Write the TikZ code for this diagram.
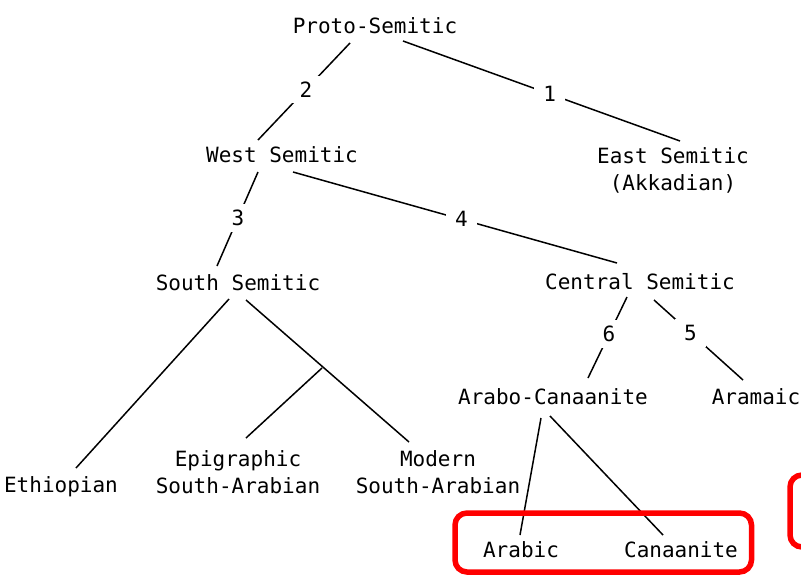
\documentclass[tikz,border=0pt]{standalone}
\usepackage{fontspec}
\setmainfont{DejaVu Sans Mono}
\usetikzlibrary{calc}
\begin{document}
\begin{tikzpicture}[x=1pt,y=-1pt,
  lang/.style={anchor=base,inner sep=0pt,font=\fontsize{21}{26.5}\selectfont,align=center},
  branch/.style={line width=1.5pt,black},
  num/.style={fill=white,inner xsep=9pt,inner ysep=6pt,font=\fontsize{21}{26.5}\selectfont},
  hilite/.style={draw=red,line width=5.5pt,rounded corners=12pt}]
\useasboundingbox (0,0) rectangle (801,576);
\clip (0,0) rectangle (801,576);
% languages
\node[lang] (proto) at (375,33) {Proto-Semitic};
\node[lang] (west) at (282,162) {West Semitic};
\node[lang] (east) at (673,190) {East Semitic\\(Akkadian)};
\node[lang] (south) at (238,290) {South Semitic};
\node[lang] (central) at (640,289) {Central Semitic};
\node[lang] (arabocan) at (553,404) {Arabo-Canaanite};
\node[lang] (aramaic) at (756,404) {Aramaic};
\node[lang] (ethiopian) at (61,492) {Ethiopian};
\node[lang] (epigraphic) at (238,493) {Epigraphic\\South-Arabian};
\node[lang] (modern) at (438,493) {Modern\\South-Arabian};
\node[lang] (arabic) at (521,557) {Arabic};
\node[lang] (canaanite) at (681,557) {Canaanite};
% connector ends
\coordinate (ps-l) at (350,43);
\coordinate (ps-r) at (403,41);
\coordinate (ws-t) at (258,140);
\coordinate (es-t) at (680,141);
\coordinate (ws-l) at (258,172);
\coordinate (ws-r) at (293,172);
\coordinate (ss-t) at (217,266);
\coordinate (cs-t) at (617,263);
\coordinate (ss-l) at (229,299);
\coordinate (ss-r) at (246,300);
\coordinate (et-t) at (76,468);
\coordinate (ms-t) at (409,442);
\coordinate (junc) at (322,368);
\coordinate (ep-t) at (246,438);
\coordinate (cs-l) at (627,297);
\coordinate (cs-r) at (654,300);
\coordinate (ac-t) at (588,378);
\coordinate (ar-t) at (743,380);
\coordinate (ac-l) at (541,418);
\coordinate (ac-r) at (550,416);
\coordinate (ab-t) at (520,535);
\coordinate (cn-t) at (663,535);
% branches
\draw[branch] (ps-l) -- node[num,pos=.48] (n2) {2} (ws-t);
\draw[branch] (ps-r) -- node[num,pos=.53] (n1) {1} (es-t);
\draw[branch] (ws-l) -- node[num,pos=.49] (n3) {3} (ss-t);
\draw[branch] (ws-r) -- node[num,pos=.52] (n4) {4} (cs-t);
\draw[branch] (ss-l) -- (et-t);
\draw[branch] (ss-r) -- (ms-t);
\draw[branch] (junc) -- (ep-t);
\draw[branch] (cs-l) -- node[num,pos=.46] (n6) {6} (ac-t);
\draw[branch] (cs-r) -- node[num,pos=.41] (n5) {5} (ar-t);
\draw[branch] (ac-l) -- (ab-t);
\draw[branch] (ac-r) -- (cn-t);
% highlight boxes
\draw[hilite] (455,513) rectangle (751.5,572);
\draw[hilite] (790,475) rectangle (840,547);
\end{tikzpicture}
\end{document}
